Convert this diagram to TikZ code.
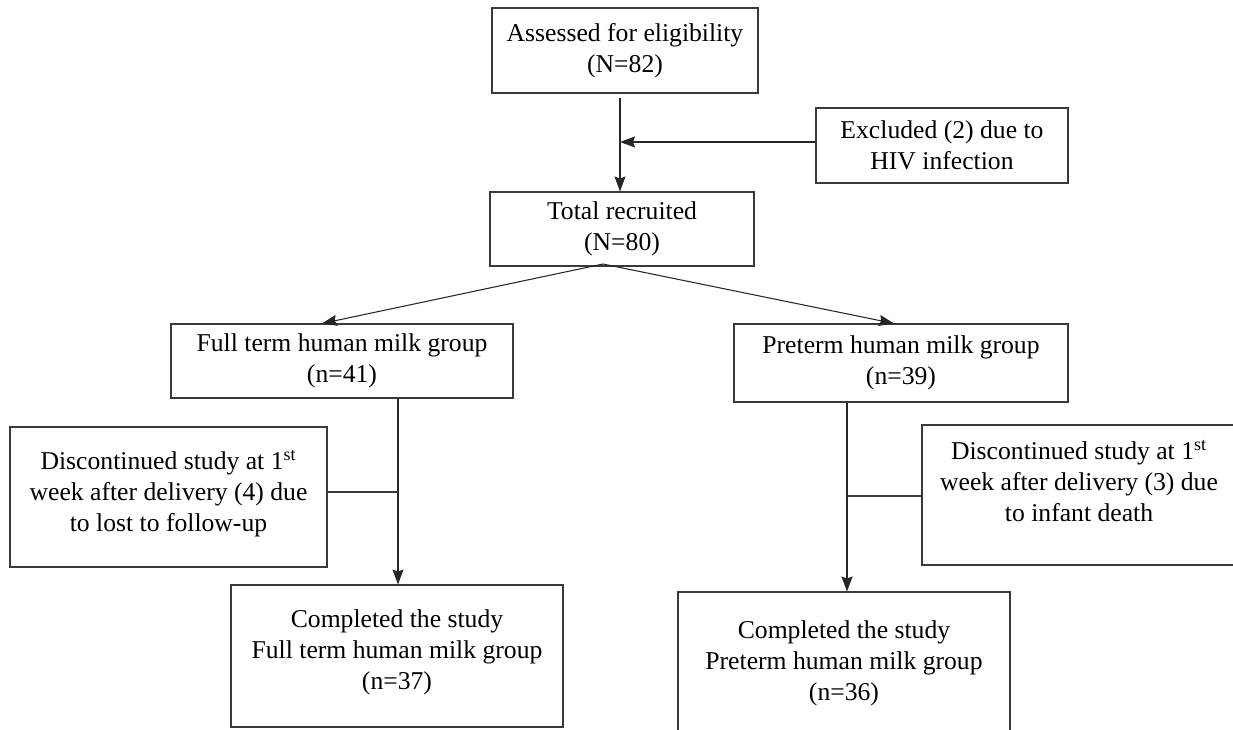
\documentclass[tikz,border=0pt]{standalone}
\usepackage{fontspec}
\setmainfont{Liberation Serif}
\usepackage{tikz}
\usetikzlibrary{arrows.meta,positioning}
\definecolor{lineink}{HTML}{3A3A3A}
\tikzset{
  flowbox/.style={rectangle,draw=lineink,line width=0.6pt,align=center,inner sep=1pt,
    font=\fontsize{14.6}{17.6}\selectfont},
  flowedge/.style={-{Stealth[length=3mm,width=2.2mm,inset=0.4mm]},line width=0.6pt,black!85},
  sideedge/.style={line width=0.6pt,lineink},
}
\begin{document}
\begin{tikzpicture}
  \useasboundingbox (0,0) rectangle (24.66,-14.58);
  \node[flowbox,minimum width=5.32cm,minimum height=1.70cm] (nassess) at (12.50,-1.01) {Assessed for eligibility\\(N=82)};
  \node[flowbox,minimum width=5.04cm,minimum height=1.50cm] (nexcl) at (18.84,-2.91) {Excluded (2) due to\\HIV infection};
  \node[flowbox,minimum width=5.28cm,minimum height=1.48cm] (ntotal) at (12.44,-4.58) {Total recruited\\(N=80)};
  \node[flowbox,minimum width=6.84cm,minimum height=1.48cm] (nfull) at (6.84,-7.22) {Full term human milk group\\(n=41)};
  \node[flowbox,minimum width=6.68cm,minimum height=1.56cm] (npre) at (18.02,-7.26) {Preterm human milk group\\(n=39)};
  \node[flowbox,minimum width=6.34cm,minimum height=2.80cm,text depth=0.25cm] (ndiscL) at (3.37,-9.94) {Discontinued study at 1\textsuperscript{st}\\week after delivery (4) due\\to lost to follow-up};
  \node[flowbox,minimum width=6.28cm,minimum height=2.80cm,text depth=0.55cm] (ndiscR) at (21.58,-9.90) {Discontinued study at 1\textsuperscript{st}\\week after delivery (3) due\\to infant death};
  \node[flowbox,minimum width=6.64cm,minimum height=2.84cm,text depth=0.25cm] (ncompL) at (7.94,-13.12) {Completed the study\\Full term human milk group\\(n=37)};
  \node[flowbox,minimum width=6.64cm,minimum height=3.06cm,text depth=0.3cm] (ncompR) at (16.88,-13.37) {Completed the study\\Preterm human milk group\\(n=36)};
  % junctions
  \coordinate (jtop) at (12.40,-2.84);
  \coordinate (jsplit) at (12.06,-5.28);
  \coordinate (jleft) at (7.96,-9.84);
  \coordinate (jright) at (16.94,-9.92);
  \draw[flowedge] ([yshift=-0.8mm]nassess.south -| jtop) -- (ntotal.north -| jtop);
  \draw[flowedge] (nexcl.west |- jtop) -- (jtop);
  \draw[flowedge] (jsplit) -- ([xshift=-4mm]nfull.north);
  \draw[flowedge] (jsplit) -- ([xshift=-1.4mm]npre.north);
  \draw[flowedge] (nfull.south -| jleft) -- (ncompL.north -| jleft);
  \draw[sideedge] (ndiscL.east |- jleft) -- (jleft);
  \draw[flowedge] (npre.south -| jright) -- (ncompR.north -| jright);
  \draw[sideedge] (ndiscR.west |- jright) -- (jright);
\end{tikzpicture}
\end{document}
